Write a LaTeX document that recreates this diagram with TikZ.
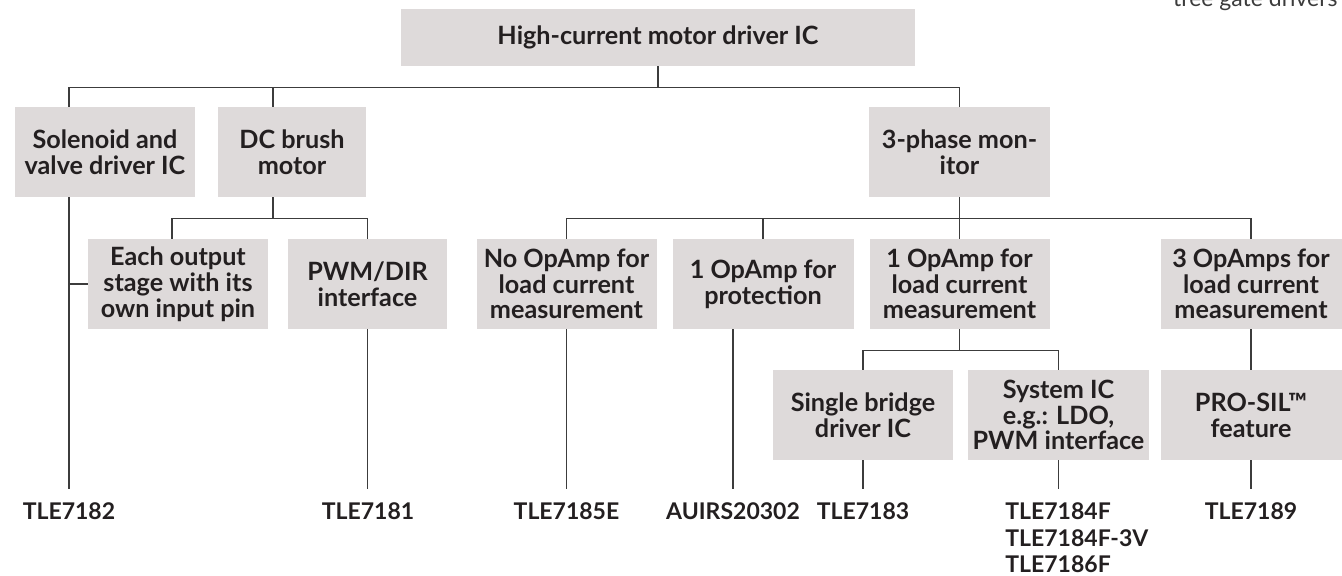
\documentclass[tikz,border=0pt]{standalone}
\usepackage{fontspec}
\setmainfont{Lato}
\usetikzlibrary{positioning,calc,backgrounds}
\definecolor{boxgray}{HTML}{DEDADA}
\definecolor{inkdark}{HTML}{231F20}
\definecolor{linegray}{HTML}{3C3C3C}
\tikzstyle{box} = [fill=boxgray,text=inkdark,font=\bfseries\fontsize{12.6}{12.9}\selectfont,align=center,minimum width=90pt,minimum height=45pt,inner sep=0pt]
\tikzstyle{partlbl} = [text=inkdark,font=\bfseries\fontsize{11.5}{13.1}\selectfont,inner sep=0pt]
\tikzstyle{part} = [partlbl,text height=9pt,text depth=0pt,inner ysep=6pt,anchor=base]
\tikzstyle{link} = [draw=linegray,line width=0.6pt]

\begin{document}
\begin{tikzpicture}[on grid,node distance=66pt,x=1pt,y=1pt]
    \useasboundingbox (0,0) rectangle (671,-288);
    \clip (0,0) rectangle (671,-288);
    \node[anchor=base east,text=linegray,font=\fontsize{11.5}{13}\selectfont,inner sep=0pt](t_note) at (669,-3.5) {tree gate drivers};

    % first level
    \node[box,minimum width=257pt,minimum height=28.5pt](b_top) at (329,-18.75) {High-current motor driver IC};
    \node[box,minimum width=90.5pt](b_ph)[below right=57.25pt and 150.75pt of b_top] {3-phase mon-\\itor};
    \node[box,minimum width=74pt](b_dc)[left=333.75pt of b_ph] {DC brush\\motor};
    \node[box](b_sol)[left=93.5pt of b_dc] {Solenoid and\\valve driver IC};

    % second level
    \node[box](b_oneop)[below=of b_ph] {1 OpAmp for\\load current\\measurement};
    \node[box,minimum width=90.5pt](b_prot)[left=98.25pt of b_oneop] {1 OpAmp for\\protection};
    \node[box](b_noop)[left=98.25pt of b_prot] {No OpAmp for\\load current\\measurement};
    \node[box,minimum width=90.5pt](b_three)[right=145.75pt of b_oneop] {3 OpAmps for\\load current\\measurement};
    \node[box,minimum width=79.5pt](b_pwm)[below right=66pt and 37.75pt of b_dc] {PWM/DIR\\interface};
    \node[box](b_each)[left=94.75pt of b_pwm] {Each output\\stage with its\\own input pin};

    % third level
    \node[box](b_single)[below left=65.5pt and 48.25pt of b_oneop] {Single bridge\\driver IC};
    \node[box,minimum width=90.5pt](b_sys)[right=97.75pt of b_single] {System IC\\e.g.: LDO,\\PWM interface};
    \node[box,minimum width=90.5pt](b_sil)[below=65.5pt of b_three] {PRO-SIL™\\feature};

    % parts
    \node[part](p_7182) at (34.5,-259.5) {TLE7182};
    \node[part](p_7181) at (184,-259.5) {TLE7181};
    \node[part](p_7185) at (283.25,-259.5) {TLE7185E};
    \node[part](p_20302) at (366.5,-259.5) {AUIRS20302};
    \node[part](p_7183) at (431.5,-259.5) {TLE7183};
    \node[partlbl,anchor=north west,align=left](p_7184) at (502.5,-251.3) {TLE7184F\\TLE7184F-3V\\TLE7186F};
    \node[part](p_7189) at (625.5,-259.5) {TLE7189};

    \begin{scope}[on background layer]
        \coordinate (r_1) at ($(b_top.south)+(0,-10.5)$);
        \coordinate (r_2) at ($(b_ph.south)+(0,-10.5)$);
        \coordinate (r_3) at ($(b_oneop.south)+(0,-10.5)$);
        \coordinate (c_dc) at ([xshift=-9.5pt]b_dc.north);
        \coordinate (c_each) at ([xshift=-3pt]b_each.north);
        % top
        \draw[link] (b_top.south) -- (b_top.south |- r_1);
        \draw[link] (p_7182.north |- r_1) -| (b_ph.north);
        \draw[link] (p_7182.north |- r_1) -- (p_7182.north);
        \draw[link] (p_7182.north |- b_each.west) -- (b_each.west);
        \draw[link] (c_dc |- r_1) -- (c_dc);
        % dc brush
        \draw[link] (c_dc |- b_dc.south) -- (c_dc |- r_2);
        \draw[link] (c_each) |- (r_2 -| b_pwm.north) -- (b_pwm.north);
        \draw[link] (b_pwm.south) -- (b_pwm.south |- p_7181.north);
        % 3-phase
        \draw[link] (b_ph.south) -- (b_ph.south |- r_2);
        \draw[link] (b_noop.north) |- (r_2 -| b_three.north) -- (b_three.north);
        \draw[link] (b_prot.north) -- (b_prot.north |- r_2);
        \draw[link] (b_oneop.north) -- (b_oneop.north |- r_2);
        \draw[link] (b_noop.south) -- (b_noop.south |- p_7185.north);
        \draw[link] (p_20302.north |- b_prot.south) -- (p_20302.north);
        \draw[link] (b_three.south) -- (b_sil.north);
        % 1 OpAmp
        \draw[link] (b_oneop.south) -- (b_oneop.south |- r_3);
        \draw[link] (b_single.north) |- (r_3 -| b_sys.north) -- (b_sys.north);
        \draw[link] (b_single.south) -- (p_7183.north);
        \draw[link] (b_sys.south) -- (b_sys.south |- p_7183.north);
        \draw[link] (b_sil.south) -- (p_7189.north);
    \end{scope}
\end{tikzpicture}
\end{document}
